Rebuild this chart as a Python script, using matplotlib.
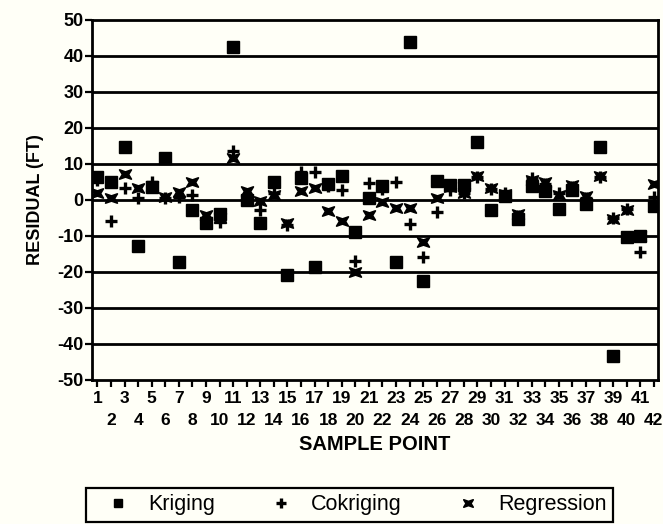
import matplotlib
matplotlib.use('Agg')
import matplotlib.pyplot as plt
from matplotlib.path import Path

plt.rcParams['font.family'] = ['Liberation Sans', 'DejaVu Sans']
plt.rcParams['axes.unicode_minus'] = False

points = list(range(1, 43))

kriging = [6.3, 4.9, 14.6, -12.7, 3.7, 11.7, -17.1, -2.8, -6.5, -4.0,
           42.6, 0.0, -6.5, 4.9, -20.8, 6.2, -18.6, 4.4, 6.7, -9.0,
           0.5, 3.9, -17.3, 43.8, -22.4, 5.3, 4.3, 4.2, 16.2, -2.7,
           1.0, -5.3, 3.9, 2.5, -2.5, 2.8, -1.1, 14.8, -43.3, -10.4,
           -10.1, -1.6]

cokriging = [5.5, -5.9, 3.2, 0.6, 5.0, 0.5, 0.8, 1.5, -5.0, -6.0,
             13.6, 0.8, -2.8, 2.0, -7.0, 7.8, 7.8, 4.0, 2.9, -17.0,
             4.6, 3.0, 4.9, -6.6, -15.8, -3.2, 2.8, 2.0, 6.5, 3.0,
             2.0, -4.5, 6.2, 4.5, 2.0, 3.5, 0.5, 6.5, -5.0, -2.5,
             -14.4, 0.8]

regression = [2.0, 0.5, 7.2, 3.3, 4.0, 0.8, 2.2, 4.9, -4.2, -5.0,
              11.8, 2.4, -0.3, 1.5, -6.5, 2.6, 3.4, -3.1, -5.7, -20.0,
              -4.3, -0.5, -2.2, -2.2, -11.7, 0.6, 3.5, 2.0, 6.8, 3.3,
              1.8, -3.8, 5.5, 5.0, 1.5, 4.3, 1.0, 6.6, -5.3, -2.9,
              -10.0, 4.4]

odd_pts = [p for p in points if p % 2]
even_pts = [p for p in points if not p % 2]

# filled four-pointed blob, like the printed asterisk symbol
star = Path([(1.15, 0.9), (0, 0.5), (-1.15, 0.9), (-0.6, 0), (-1.15, -0.9),
             (0, -0.5), (1.15, -0.9), (0.6, 0), (1.15, 0.9)], closed=True)

bg = '#fffff7'
fig = plt.figure(figsize=(6.63, 5.24), dpi=100, facecolor=bg)
ax = fig.add_axes([92/663, 1-380/524, 566/663, 360/524])
ax.set_facecolor(bg)

for yv in range(-40, 50, 10):
    ax.axhline(yv, color='black', lw=2, zorder=1)

ax.plot(points, kriging, 's', color='black', ms=8, ls='none', label='Kriging', zorder=3)
ax.plot(points, cokriging, '+', color='black', ms=9, mew=2.4, ls='none', label='Cokriging', zorder=3)
ax.plot(points, regression, marker=star, color='black', ms=8.5, mew=1.2,
        ls='none', label='Regression', zorder=3)

ax.set_xlim(0.6, 42.3)
ax.set_ylim(-50, 50)
ax.set_yticks(range(-50, 51, 10))
ax.set_xticks(odd_pts)
ax.set_xticklabels([str(p) for p in odd_pts])
ax.set_xticks(even_pts, minor=True)
ax.set_xticklabels([str(p) for p in even_pts], minor=True)

for s in ax.spines.values():
    s.set_linewidth(2)
    s.set_color('black')

ax.tick_params(axis='both', which='both', labelsize=12.5, width=1.6, length=5,
               direction='out', colors='black')
ax.tick_params(axis='x', which='major', pad=3)
ax.tick_params(axis='x', which='minor', pad=19)
ax.tick_params(axis='y', pad=1, labelsize=13)
for lab in ax.get_xticklabels() + ax.get_xticklabels(minor=True) + ax.get_yticklabels():
    lab.set_fontweight('bold')

ax.set_xlabel('SAMPLE POINT', fontsize=14.5, fontweight='bold', labelpad=5)
ax.set_ylabel('RESIDUAL (FT)', fontsize=13, fontweight='bold', labelpad=10)

leg = fig.legend(loc='upper left', bbox_to_anchor=(86/663, 1-488/524, (613-86)/663, 0.0),
                 mode='expand', ncol=3, fancybox=False, edgecolor='black',
                 facecolor=bg, framealpha=1, fontsize=15.5, borderpad=0.3,
                 borderaxespad=0, handlelength=2.4, handletextpad=0.2,
                 markerscale=0.8)
leg.get_frame().set_linewidth(1.6)

fig.savefig('out.png', dpi=100, facecolor=bg)
